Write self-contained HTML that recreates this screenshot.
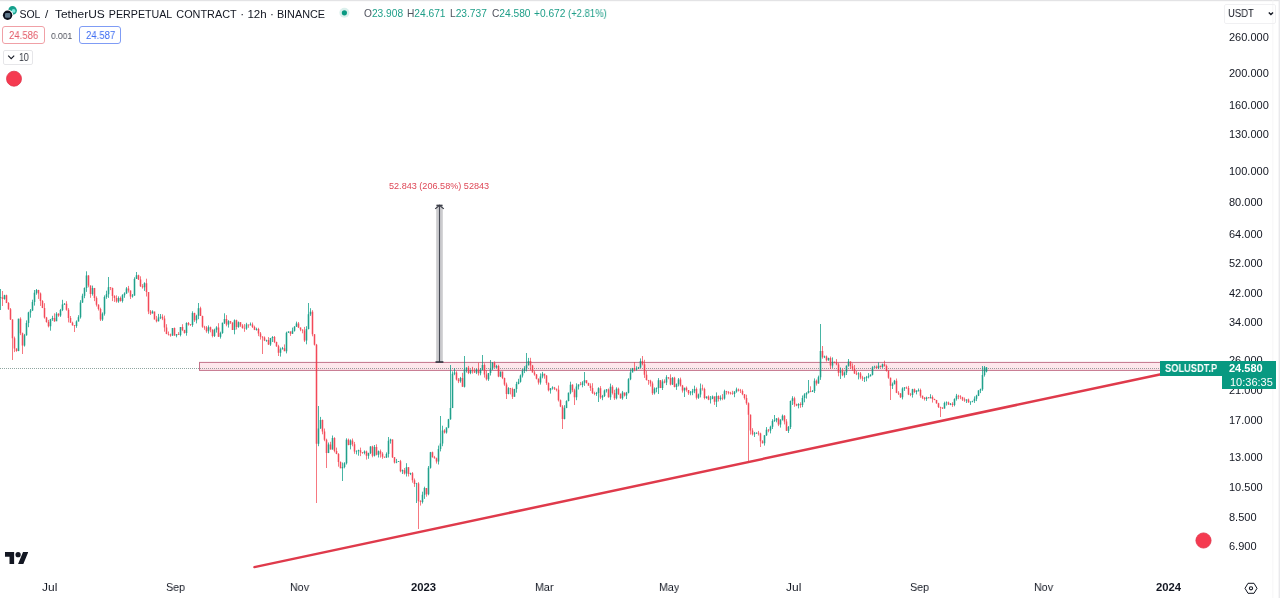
<!DOCTYPE html>
<html><head><meta charset="utf-8">
<style>
*{margin:0;padding:0;box-sizing:border-box}
html,body{width:1280px;height:598px;overflow:hidden;background:#fff}
body{position:relative;font-family:"Liberation Sans",Arial,sans-serif;color:#131722}
.a,.ax,.tx,.ty{will-change:transform}
.a{position:absolute;white-space:nowrap;line-height:1}
.ax{position:absolute;left:1229px;font-size:11px;color:#131722;line-height:1}
.tx{position:absolute;top:582px;font-size:11.5px;color:#131722;line-height:1;transform:scaleX(0.93);transform-origin:0 0}
.ty{position:absolute;top:582px;font-size:11.3px;color:#131722;line-height:1;font-weight:bold}
svg{position:absolute;left:0;top:0}
</style></head><body>
<svg width="1280" height="598" viewBox="0 0 1280 598">
  <!-- frame -->
  <rect x="0" y="0" width="1280" height="1.2" fill="#e3e3e5"/>
  <rect x="1272.5" y="0" width="0.8" height="598" fill="#f4f4f6"/>
  <rect x="1278.6" y="0" width="1.4" height="598" fill="#e9e9ec"/>
  <!-- current price dotted line -->
  <line x1="0" y1="368.5" x2="1160" y2="368.5" stroke="#8fa6a1" stroke-width="1" stroke-dasharray="1 1"/>
  <!-- rectangle zone -->
  <rect x="199.5" y="362.4" width="961" height="8" fill="rgba(245,80,110,0.13)" stroke="#c4738a" stroke-width="1"/>
  <filter id="bl" x="-1%" y="-5%" width="102%" height="110%"><feGaussianBlur stdDeviation="0.45"/></filter><g filter="url(#bl)"><path d="M0.50 289.0V310.0M4.50 294.8V299.7M18.50 318.6V351.2M24.50 333.9V346.6M26.50 320.4V335.7M28.50 311.8V327.2M30.50 309.0V317.7M32.50 299.7V310.9M34.50 290.0V305.6M36.50 289.0V294.7M50.50 318.9V330.7M52.50 315.8V320.9M56.50 312.2V321.2M60.50 308.9V316.9M62.50 299.8V311.1M64.50 303.1V304.9M76.50 320.4V327.8M78.50 315.2V321.5M80.50 300.2V318.6M82.50 293.7V302.9M84.50 287.4V298.2M86.50 271.3V291.9M92.50 285.6V295.6M102.50 312.4V320.9M104.50 295.4V315.6M106.50 290.7V298.8M108.50 277.0V297.9M118.50 296.4V302.8M122.50 294.2V302.6M124.50 292.3V297.8M126.50 287.1V293.8M132.50 294.0V297.6M134.50 277.3V295.8M136.50 272.0V278.9M144.50 282.3V290.9M152.50 310.3V313.5M158.50 313.9V321.5M160.50 314.0V319.1M172.50 328.0V335.9M176.50 334.0V337.3M180.50 327.0V336.4M186.50 322.3V335.7M192.50 311.3V326.8M196.50 314.7V323.4M198.50 303.0V319.2M208.50 325.4V333.6M214.50 328.7V337.0M216.50 326.2V332.6M220.50 331.7V338.6M222.50 322.6V333.8M224.50 313.3V324.0M228.50 320.2V327.6M234.50 319.4V334.3M238.50 321.5V327.8M246.50 322.8V329.8M250.50 322.5V325.5M256.50 327.7V330.6M266.50 339.7V341.8M270.50 337.9V345.9M272.50 336.1V342.0M280.50 347.6V356.6M282.50 346.9V349.5M286.50 331.7V353.4M288.50 331.3V332.9M292.50 327.6V333.9M294.50 326.1V331.6M296.50 321.6V326.8M306.50 326.2V344.3M308.50 303.0V329.4M310.50 308.2V315.9M318.50 406.0V446.2M320.50 416.9V428.8M328.50 442.5V453.1M332.50 435.5V449.6M342.50 462.5V481.0M344.50 462.2V468.3M346.50 438.3V464.5M350.50 439.4V449.4M356.50 450.3V454.4M358.50 449.7V455.7M364.50 450.4V454.4M368.50 452.7V458.8M370.50 446.2V454.1M374.50 445.0V456.5M378.50 450.5V457.5M386.50 452.4V457.9M388.50 437.0V457.5M390.50 438.7V443.6M396.50 458.9V463.2M398.50 461.2V462.0M402.50 469.5V474.0M406.50 463.2V476.5M410.50 472.7V475.1M416.50 482.9V503.0M422.50 491.7V503.5M424.50 486.7V498.9M428.50 466.0V495.3M430.50 451.9V468.6M438.50 445.6V464.5M440.50 416.0V451.4M442.50 425.7V446.2M446.50 427.4V433.6M448.50 418.9V428.2M450.50 365.0V419.8M452.50 371.4V408.1M454.50 368.2V375.2M460.50 376.9V382.7M464.50 356.0V387.5M466.50 367.3V372.5M470.50 369.4V374.2M476.50 368.8V374.1M480.50 368.2V375.3M482.50 355.0V370.2M488.50 373.0V380.9M490.50 360.0V375.5M492.50 362.0V370.0M496.50 364.9V368.0M500.50 371.6V377.1M508.50 387.2V394.3M514.50 388.8V396.8M516.50 381.8V392.7M518.50 378.8V384.3M520.50 374.5V382.6M522.50 369.0V377.5M524.50 366.2V373.1M526.50 353.0V371.4M528.50 357.9V365.5M540.50 373.4V384.6M542.50 371.9V378.3M550.50 388.1V393.6M552.50 386.3V389.6M564.50 405.2V419.4M566.50 400.3V408.2M568.50 392.5V401.4M570.50 381.7V394.2M576.50 383.3V400.2M578.50 384.3V389.5M582.50 381.2V387.3M584.50 372.0V385.9M596.50 391.9V395.9M598.50 387.3V402.0M602.50 394.9V400.2M604.50 389.5V397.0M606.50 389.0V392.5M610.50 383.6V399.9M616.50 387.3V399.4M622.50 390.9V399.7M626.50 391.9V399.0M628.50 378.2V393.4M630.50 369.2V380.2M632.50 367.9V372.4M636.50 366.3V370.6M638.50 366.9V368.9M640.50 358.4V368.0M654.50 387.4V394.5M656.50 387.4V392.3M658.50 378.1V394.0M662.50 379.4V390.0M666.50 375.2V385.1M672.50 377.1V385.0M676.50 383.4V389.9M678.50 378.0V386.4M684.50 387.7V397.0M690.50 391.0V395.3M692.50 388.9V395.2M694.50 385.7V393.2M698.50 393.6V398.9M700.50 383.5V397.4M706.50 396.4V398.8M710.50 396.0V403.5M712.50 395.5V399.2M716.50 392.4V407.0M720.50 395.4V400.5M724.50 389.7V399.6M734.50 391.2V397.2M736.50 387.6V392.7M754.50 431.9V437.0M756.50 432.4V433.9M764.50 435.2V445.6M766.50 427.1V435.9M770.50 425.7V433.4M772.50 419.2V429.0M774.50 415.0V421.9M776.50 418.0V422.3M780.50 419.2V427.6M782.50 414.5V420.6M788.50 426.0V433.0M790.50 400.5V429.0M792.50 396.2V405.0M798.50 403.2V408.4M802.50 395.5V407.2M804.50 393.2V402.3M806.50 392.2V398.6M808.50 380.0V393.5M812.50 390.0V392.0M814.50 378.4V393.0M818.50 375.6V383.7M820.50 324.0V379.9M824.50 355.6V358.1M828.50 357.7V360.8M832.50 357.4V367.9M840.50 367.5V379.0M844.50 371.3V377.7M846.50 365.4V375.0M848.50 359.0V366.7M858.50 372.2V379.4M864.50 376.9V382.0M866.50 375.9V381.3M868.50 373.1V378.4M870.50 374.3V376.5M872.50 366.2V375.4M874.50 365.7V367.6M878.50 362.4V369.1M882.50 363.6V367.9M892.50 382.5V389.0M894.50 379.9V384.4M902.50 387.3V399.4M904.50 387.1V390.9M912.50 388.8V397.6M916.50 390.4V394.4M918.50 388.5V391.6M926.50 396.7V400.9M930.50 394.2V398.4M944.50 401.7V408.7M946.50 401.4V405.5M950.50 403.0V405.2M954.50 398.3V406.3M956.50 393.9V400.6M966.50 399.3V403.0M970.50 401.5V404.9M972.50 400.7V402.3M974.50 396.4V402.9M976.50 394.8V401.1M978.50 390.2V396.1M980.50 388.6V393.1M982.50 366.0V390.8M984.50 366.0V376.6M986.50 367.0V372.4" stroke="#089981" stroke-width="1.0" fill="none" opacity="0.72"/><path d="M0.50 297.2V298.0M4.50 295.3V299.1M18.50 318.7V351.1M24.50 335.3V345.6M26.50 323.1V335.3M28.50 312.5V323.1M30.50 310.5V312.5M32.50 301.9V310.5M34.50 292.8V301.9M36.50 290.0V292.8M50.50 319.2V326.3M52.50 318.0V319.2M56.50 313.7V321.2M60.50 310.1V315.6M62.50 304.4V310.1M64.50 303.7V304.4M76.50 321.4V326.0M78.50 317.3V321.4M80.50 302.6V317.3M82.50 295.7V302.6M84.50 287.9V295.7M86.50 275.5V287.9M92.50 288.0V293.9M102.50 313.8V319.5M104.50 296.9V313.8M106.50 294.2V296.9M108.50 287.3V294.2M118.50 297.9V301.4M122.50 295.2V301.1M124.50 293.6V295.2M126.50 288.5V293.6M132.50 295.4V296.4M134.50 278.9V295.4M136.50 275.3V278.9M144.50 283.3V287.2M152.50 311.6V313.5M158.50 317.5V321.3M160.50 316.7V317.5M172.50 328.1V335.6M176.50 334.3V335.4M180.50 327.1V335.0M186.50 322.9V333.1M192.50 313.1V325.1M196.50 315.7V320.3M198.50 308.2V315.7M208.50 327.3V331.2M214.50 329.7V336.1M216.50 327.4V329.7M220.50 333.1V336.8M222.50 322.7V333.1M224.50 318.9V322.7M228.50 321.2V324.6M234.50 320.2V330.0M238.50 322.2V327.1M246.50 324.6V328.6M250.50 324.6V325.3M256.50 329.0V329.7M266.50 339.9V340.6M270.50 338.0V344.4M272.50 337.1V338.0M280.50 349.3V352.8M282.50 348.2V349.3M286.50 332.8V351.2M288.50 331.6V332.8M292.50 330.7V333.7M294.50 326.7V330.7M296.50 323.4V326.7M306.50 329.1V340.6M308.50 314.3V329.1M310.50 311.7V314.3M318.50 428.5V443.8M320.50 419.9V428.5M328.50 444.6V452.9M332.50 437.9V449.5M342.50 467.0V468.3M344.50 463.3V467.0M346.50 439.7V463.3M350.50 440.5V445.0M356.50 450.9V451.6M358.50 450.2V450.9M364.50 451.5V453.1M368.50 452.9V455.8M370.50 446.4V452.9M374.50 447.1V455.7M378.50 451.2V454.7M386.50 453.9V457.5M388.50 440.8V453.9M390.50 439.5V440.8M396.50 461.9V462.6M398.50 461.2V461.9M402.50 470.2V471.3M406.50 467.2V473.4M410.50 473.2V474.0M416.50 483.4V484.1M422.50 494.8V501.9M424.50 488.1V494.8M428.50 467.7V494.2M430.50 452.2V467.7M438.50 448.9V461.5M440.50 443.4V448.9M442.50 430.5V443.4M446.50 427.5V432.4M448.50 419.3V427.5M450.50 408.1V419.3M452.50 373.8V408.1M454.50 372.4V373.8M460.50 378.1V381.2M464.50 369.4V386.8M466.50 367.8V369.4M470.50 370.2V373.0M476.50 369.6V372.5M480.50 369.8V373.3M482.50 365.1V369.8M488.50 373.0V379.2M490.50 368.6V373.0M492.50 363.0V368.6M496.50 366.1V367.4M500.50 371.6V376.5M508.50 388.2V393.9M514.50 389.1V396.7M516.50 384.1V389.1M518.50 381.7V384.1M520.50 375.4V381.7M522.50 370.9V375.4M524.50 368.3V370.9M526.50 365.2V368.3M528.50 361.1V365.2M540.50 376.5V382.4M542.50 373.8V376.5M550.50 388.3V390.3M552.50 387.6V388.3M564.50 407.9V419.1M566.50 401.0V407.9M568.50 392.7V401.0M570.50 384.8V392.7M576.50 386.6V397.2M578.50 384.4V386.6M582.50 382.6V385.1M584.50 380.3V382.6M596.50 393.0V393.7M598.50 388.2V393.0M602.50 395.9V397.4M604.50 390.6V395.9M606.50 389.6V390.6M610.50 386.7V397.3M616.50 388.7V398.3M622.50 392.6V398.2M626.50 392.7V395.4M628.50 379.3V392.7M630.50 372.4V379.3M632.50 367.9V372.4M636.50 368.8V369.5M638.50 367.4V368.8M640.50 361.0V367.4M654.50 388.8V393.3M656.50 387.9V388.8M658.50 380.2V387.9M662.50 381.4V387.9M666.50 377.3V382.4M672.50 377.7V384.6M676.50 384.3V387.1M678.50 379.4V384.3M684.50 387.8V390.4M690.50 392.5V393.2M692.50 391.3V392.5M694.50 389.1V391.3M698.50 394.4V397.7M700.50 388.4V394.4M706.50 396.5V398.1M710.50 398.8V399.5M712.50 396.4V398.8M716.50 396.0V401.8M720.50 397.8V399.1M724.50 391.3V398.5M734.50 391.6V394.1M736.50 389.4V391.6M754.50 433.5V434.3M756.50 432.8V433.5M764.50 435.3V443.2M766.50 429.8V435.3M770.50 426.8V430.5M772.50 421.0V426.8M774.50 420.2V421.0M776.50 418.5V420.2M780.50 419.7V424.6M782.50 415.8V419.7M788.50 426.9V430.7M790.50 400.9V426.9M792.50 398.2V400.9M798.50 403.9V405.5M802.50 398.1V405.1M804.50 394.6V398.1M806.50 393.1V394.6M808.50 391.0V393.1M812.50 391.0V391.7M814.50 380.8V391.0M818.50 377.2V383.6M820.50 351.1V377.2M824.50 356.5V357.2M828.50 357.9V360.2M832.50 361.7V365.6M840.50 371.0V372.8M844.50 372.4V375.3M846.50 365.7V372.4M848.50 361.5V365.7M858.50 373.6V374.3M864.50 377.9V378.6M866.50 377.2V377.9M868.50 376.3V377.2M870.50 374.7V376.3M872.50 367.4V374.7M874.50 366.7V367.4M878.50 365.8V368.0M882.50 364.3V367.0M892.50 384.3V385.8M894.50 380.7V384.3M902.50 388.4V397.3M904.50 387.4V388.4M912.50 389.3V395.1M916.50 390.6V391.9M918.50 389.9V390.6M926.50 397.5V398.9M930.50 397.1V398.2M944.50 403.1V408.5M946.50 402.4V403.1M950.50 403.8V404.5M954.50 399.1V404.9M956.50 395.8V399.1M966.50 399.6V400.4M970.50 401.6V402.3M972.50 400.9V401.6M974.50 398.8V400.9M976.50 395.7V398.8M978.50 390.4V395.7M980.50 389.2V390.4M982.50 375.1V389.2M984.50 367.5V375.1M986.50 367.5V371.4" stroke="#089981" stroke-width="1.7" fill="none" opacity="0.72"/><path d="M2.50 291.0V306.0M6.50 294.7V303.1M8.50 302.1V309.8M10.50 308.0V320.0M12.50 319.3V360.0M14.50 336.6V352.1M16.50 348.3V351.8M20.50 317.3V335.1M22.50 332.6V354.0M38.50 289.8V298.9M40.50 292.5V305.9M42.50 300.1V308.1M44.50 303.2V318.6M46.50 316.9V322.7M48.50 319.9V327.4M54.50 313.3V321.9M58.50 313.2V316.8M66.50 301.2V310.7M68.50 308.1V322.4M70.50 316.0V322.8M72.50 321.7V325.7M74.50 325.0V332.0M88.50 275.1V287.3M90.50 285.4V297.8M94.50 287.9V301.1M96.50 296.4V306.5M98.50 304.2V310.5M100.50 307.7V321.0M110.50 287.2V290.1M112.50 287.6V301.1M114.50 295.2V301.9M116.50 295.3V302.7M120.50 296.5V301.6M128.50 285.9V292.6M130.50 290.4V299.0M138.50 274.7V280.0M140.50 276.3V287.0M142.50 284.1V288.6M146.50 278.7V296.5M148.50 292.1V314.1M150.50 310.0V315.0M154.50 311.6V319.5M156.50 315.9V322.4M162.50 314.3V320.1M164.50 315.6V331.7M166.50 324.2V334.2M168.50 331.5V335.5M170.50 333.6V336.7M174.50 327.5V335.8M178.50 332.1V335.0M182.50 324.2V331.1M184.50 329.8V333.6M188.50 322.0V325.6M190.50 324.0V325.9M194.50 312.7V321.9M200.50 306.7V316.0M202.50 315.7V327.8M204.50 325.8V329.8M206.50 326.0V332.8M210.50 326.6V332.3M212.50 329.2V337.4M218.50 323.2V337.0M226.50 315.1V326.3M230.50 320.9V323.9M232.50 322.3V330.0M236.50 319.7V329.5M240.50 322.1V326.9M242.50 324.1V328.7M244.50 324.1V331.8M248.50 324.6V327.8M252.50 322.5V328.0M254.50 325.7V330.1M258.50 327.8V336.1M260.50 332.0V339.6M262.50 336.1V354.0M264.50 336.4V341.1M268.50 337.1V345.0M274.50 336.0V343.1M276.50 341.7V346.9M278.50 344.8V356.0M284.50 344.4V351.2M290.50 331.3V335.9M298.50 322.0V328.0M300.50 327.4V331.2M302.50 329.5V333.3M304.50 326.9V341.9M312.50 310.2V336.3M314.50 334.1V345.5M316.50 343.9V503.0M322.50 419.5V434.3M324.50 428.5V441.2M326.50 438.7V468.0M330.50 441.8V449.7M334.50 437.2V452.4M336.50 447.6V454.2M338.50 453.1V466.7M340.50 461.4V468.3M348.50 438.6V445.3M352.50 438.5V446.3M354.50 441.9V453.8M360.50 447.6V456.1M362.50 452.0V453.8M366.50 450.6V459.6M372.50 445.7V457.3M376.50 444.3V455.4M380.50 449.5V457.6M382.50 452.2V458.8M384.50 456.6V457.8M392.50 439.3V458.0M394.50 457.0V463.5M400.50 459.9V472.3M404.50 468.0V474.5M408.50 467.1V476.5M412.50 472.1V482.7M414.50 478.5V486.9M418.50 482.2V529.0M420.50 500.2V505.6M426.50 488.0V496.7M432.50 451.6V457.6M434.50 455.9V458.6M436.50 457.6V463.6M444.50 429.2V433.5M456.50 371.2V380.5M458.50 378.0V383.1M462.50 372.8V387.0M468.50 365.9V374.1M472.50 366.8V373.6M474.50 368.8V373.0M478.50 362.7V375.5M484.50 363.3V377.6M486.50 370.2V380.5M494.50 361.4V367.7M498.50 364.8V377.2M502.50 371.5V379.1M504.50 377.6V385.8M506.50 382.6V399.0M510.50 387.9V394.4M512.50 387.6V399.0M530.50 357.8V370.3M532.50 364.9V372.6M534.50 370.6V375.7M536.50 374.0V379.4M538.50 378.4V384.6M544.50 373.7V378.7M546.50 375.1V384.8M548.50 382.4V391.4M554.50 386.9V390.0M556.50 388.6V391.4M558.50 385.5V401.5M560.50 399.5V407.1M562.50 405.1V429.0M572.50 384.2V392.1M574.50 388.7V405.0M580.50 381.9V385.3M586.50 380.2V383.6M588.50 382.7V385.7M590.50 383.4V390.9M592.50 383.2V394.0M594.50 391.7V395.2M600.50 386.1V399.1M608.50 388.5V397.7M612.50 385.2V394.5M614.50 389.8V399.9M618.50 387.6V395.0M620.50 393.3V398.8M624.50 392.5V396.5M634.50 362.0V371.3M642.50 356.0V365.4M644.50 359.8V377.9M646.50 370.7V380.5M648.50 379.9V384.8M650.50 379.8V386.5M652.50 381.5V394.9M660.50 380.0V388.1M664.50 379.3V383.3M668.50 377.2V379.2M670.50 374.3V385.4M674.50 376.8V387.4M680.50 377.6V386.5M682.50 384.9V392.6M686.50 386.5V391.7M688.50 390.0V394.9M696.50 387.5V399.5M702.50 384.6V390.6M704.50 387.7V399.4M708.50 395.4V400.2M714.50 396.3V404.9M718.50 395.4V401.5M722.50 394.1V400.2M726.50 390.9V394.6M728.50 391.1V394.4M730.50 391.8V394.6M732.50 390.8V394.8M738.50 388.5V391.5M740.50 388.9V393.0M742.50 389.4V395.2M744.50 394.0V399.6M746.50 394.7V404.8M748.50 402.4V461.0M750.50 414.4V434.6M752.50 428.2V435.5M758.50 430.9V435.5M760.50 432.7V447.0M762.50 440.2V443.5M768.50 429.0V432.3M778.50 417.4V426.1M784.50 415.1V424.4M786.50 419.1V431.0M794.50 396.7V406.8M796.50 403.7V406.2M800.50 402.3V407.8M810.50 386.3V392.2M816.50 379.5V385.6M822.50 346.0V358.7M826.50 355.5V361.5M830.50 356.5V368.9M834.50 361.6V363.3M836.50 359.1V365.3M838.50 362.9V376.3M842.50 368.7V376.2M850.50 361.3V368.9M852.50 363.4V370.9M854.50 365.0V373.9M856.50 371.0V375.1M860.50 372.0V379.3M862.50 375.8V380.9M876.50 365.5V368.7M880.50 365.6V367.7M884.50 360.7V366.7M886.50 364.6V371.6M888.50 370.2V378.8M890.50 377.6V400.0M896.50 378.5V393.1M898.50 391.2V395.0M900.50 393.0V398.0M906.50 386.5V389.0M908.50 385.9V395.1M910.50 392.9V396.2M914.50 388.5V393.1M920.50 388.6V397.7M922.50 395.6V399.1M924.50 397.0V400.5M928.50 397.0V398.3M932.50 395.4V402.6M934.50 398.7V400.2M936.50 399.9V403.8M938.50 402.8V408.0M940.50 406.7V417.0M942.50 407.2V409.0M948.50 401.6V405.0M952.50 402.2V406.9M958.50 394.8V399.2M960.50 395.2V399.2M962.50 396.8V401.0M964.50 397.5V401.8M968.50 398.6V402.9" stroke="#f23645" stroke-width="1.0" fill="none" opacity="0.68"/><path d="M2.50 297.2V299.1M6.50 295.3V303.1M8.50 303.1V309.2M10.50 309.2V319.4M12.50 319.4V338.3M14.50 338.3V348.6M16.50 348.6V351.1M20.50 318.7V333.2M22.50 333.2V345.6M38.50 290.0V293.6M40.50 293.6V300.9M42.50 300.9V307.9M44.50 307.9V317.6M46.50 317.6V322.1M48.50 322.1V326.3M54.50 318.0V321.2M58.50 313.7V315.6M66.50 303.7V309.7M68.50 309.7V317.9M70.50 317.9V322.7M72.50 322.7V325.3M74.50 325.3V326.0M88.50 275.5V285.5M90.50 285.5V293.9M94.50 288.0V298.0M96.50 298.0V304.7M98.50 304.7V308.9M100.50 308.9V319.5M110.50 287.3V288.1M112.50 288.1V296.1M114.50 296.1V298.1M116.50 298.1V301.4M120.50 297.9V301.1M128.50 288.5V290.4M130.50 290.4V296.4M138.50 275.3V279.4M140.50 279.4V286.3M142.50 286.3V287.2M146.50 283.3V292.1M148.50 292.1V311.6M150.50 311.6V313.5M154.50 311.6V319.4M156.50 319.4V321.3M162.50 316.7V318.6M164.50 318.6V327.4M166.50 327.4V333.9M168.50 333.9V334.6M170.50 334.6V335.6M174.50 328.1V335.4M178.50 334.3V335.0M182.50 327.1V329.9M184.50 329.9V333.1M188.50 322.9V324.4M190.50 324.4V325.1M194.50 313.1V320.3M200.50 308.2V316.0M202.50 316.0V326.7M204.50 326.7V327.4M206.50 327.4V331.2M210.50 327.3V329.8M212.50 329.8V336.1M218.50 327.4V336.8M226.50 318.9V324.6M230.50 321.2V322.6M232.50 322.6V330.0M236.50 320.2V327.1M240.50 322.2V325.6M242.50 325.6V327.9M244.50 327.9V328.6M248.50 324.6V325.3M252.50 324.6V327.0M254.50 327.0V329.7M258.50 329.0V333.5M260.50 333.5V336.7M262.50 336.7V337.4M264.50 337.4V340.6M268.50 339.9V344.4M274.50 337.1V341.9M276.50 341.9V346.3M278.50 346.3V352.8M284.50 348.2V351.2M290.50 331.6V333.7M298.50 323.4V327.5M300.50 327.5V329.5M302.50 329.5V330.4M304.50 330.4V340.6M312.50 311.7V334.3M314.50 334.3V344.8M316.50 344.8V443.8M322.50 419.9V431.5M324.50 431.5V439.8M326.50 439.8V452.9M330.50 444.6V449.5M334.50 437.9V450.9M336.50 450.9V454.0M338.50 454.0V461.9M340.50 461.9V468.3M348.50 439.7V445.0M352.50 440.5V444.2M354.50 444.2V451.6M360.50 450.2V452.4M362.50 452.4V453.1M366.50 451.5V455.8M372.50 446.4V455.7M376.50 447.1V454.7M380.50 451.2V453.7M382.50 453.7V456.8M384.50 456.8V457.5M392.50 439.5V457.3M394.50 457.3V462.6M400.50 461.2V471.3M404.50 470.2V473.4M408.50 467.2V474.0M412.50 473.2V480.3M414.50 480.3V484.1M418.50 483.4V501.2M420.50 501.2V501.9M426.50 488.1V494.2M432.50 452.2V457.2M434.50 457.2V458.2M436.50 458.2V461.5M444.50 430.5V432.4M456.50 372.4V379.6M458.50 379.6V381.2M462.50 378.1V386.8M468.50 367.8V373.0M472.50 370.2V371.3M474.50 371.3V372.5M478.50 369.6V373.3M484.50 365.1V374.5M486.50 374.5V379.2M494.50 363.0V367.4M498.50 366.1V376.5M502.50 371.6V378.0M504.50 378.0V384.4M506.50 384.4V393.9M510.50 388.2V388.9M512.50 388.9V396.7M530.50 361.1V365.5M532.50 365.5V372.4M534.50 372.4V374.4M536.50 374.4V378.7M538.50 378.7V382.4M544.50 373.8V375.6M546.50 375.6V383.1M548.50 383.1V390.3M554.50 387.6V388.7M556.50 388.7V389.7M558.50 389.7V400.3M560.50 400.3V406.5M562.50 406.5V419.1M572.50 384.8V390.2M574.50 390.2V397.2M580.50 384.4V385.1M586.50 380.3V382.9M588.50 382.9V385.7M590.50 385.7V388.0M592.50 388.0V393.0M594.50 393.0V393.7M600.50 388.2V397.4M608.50 389.6V397.3M612.50 386.7V392.9M614.50 392.9V398.3M618.50 388.7V394.1M620.50 394.1V398.2M624.50 392.6V395.4M634.50 367.9V369.5M642.50 361.0V364.3M644.50 364.3V374.7M646.50 374.7V380.0M648.50 380.0V380.7M650.50 380.7V383.5M652.50 383.5V393.3M660.50 380.2V387.9M664.50 381.4V382.4M668.50 377.3V378.1M670.50 378.1V384.6M674.50 377.7V387.1M680.50 379.4V385.6M682.50 385.6V390.4M686.50 387.8V390.0M688.50 390.0V393.2M696.50 389.1V397.7M702.50 388.4V389.1M704.50 389.1V398.1M708.50 396.5V399.5M714.50 396.4V401.8M718.50 396.0V399.1M722.50 397.8V398.5M726.50 391.3V392.0M728.50 392.0V392.7M730.50 392.7V393.4M732.50 393.4V394.1M738.50 389.4V390.4M740.50 390.4V391.1M742.50 391.1V394.2M744.50 394.2V398.1M746.50 398.1V403.3M748.50 403.3V414.7M750.50 414.7V430.5M752.50 430.5V434.3M758.50 432.8V433.5M760.50 433.5V441.3M762.50 441.3V443.2M768.50 429.8V430.5M778.50 418.5V424.6M784.50 415.8V421.5M786.50 421.5V430.7M794.50 398.2V404.2M796.50 404.2V405.5M800.50 403.9V405.1M810.50 391.0V391.7M816.50 380.8V383.6M822.50 351.1V357.2M826.50 356.5V360.2M830.50 357.9V365.6M834.50 361.7V362.4M836.50 362.4V364.6M838.50 364.6V372.8M842.50 371.0V375.3M850.50 361.5V366.2M852.50 366.2V368.4M854.50 368.4V373.4M856.50 373.4V374.3M860.50 373.6V377.6M862.50 377.6V378.6M876.50 366.7V368.0M880.50 365.8V367.0M884.50 364.3V366.0M886.50 366.0V370.9M888.50 370.9V377.7M890.50 377.7V385.8M896.50 380.7V392.8M898.50 392.8V393.5M900.50 393.5V397.3M906.50 387.4V388.1M908.50 388.1V394.4M910.50 394.4V395.1M914.50 389.3V391.9M920.50 389.9V395.7M922.50 395.7V397.7M924.50 397.7V398.9M928.50 397.5V398.2M932.50 397.1V399.1M934.50 399.1V399.9M936.50 399.9V403.2M938.50 403.2V407.1M940.50 407.1V407.8M942.50 407.8V408.5M948.50 402.4V404.5M952.50 403.8V404.9M958.50 395.8V396.6M960.50 396.6V397.3M962.50 397.3V399.4M964.50 399.4V400.4M968.50 399.6V402.3" stroke="#f23645" stroke-width="1.7" fill="none" opacity="0.68"/></g>
  <!-- trendline -->
  <line x1="254.4" y1="567.1" x2="1161" y2="374.2" stroke="#df3a4b" stroke-width="2.5" stroke-linecap="round"/>
  <!-- measurement arrow -->
  <rect x="436.2" y="205" width="6.6" height="157.5" fill="rgba(110,112,120,0.36)"/>
  <line x1="439.5" y1="205.5" x2="439.5" y2="362" stroke="#464953" stroke-width="1.1"/>
  <line x1="436.5" y1="205.3" x2="442.5" y2="205.3" stroke="#3a3d47" stroke-width="1.3"/>
  <path d="M435.2 208.9 L439.5 205.2 L443.8 208.9" stroke="#3a3d47" stroke-width="1.2" fill="none"/>
  <line x1="435.5" y1="362" x2="443.4" y2="362" stroke="#2a2e39" stroke-width="1.5"/>
  <!-- red dots -->
  <circle cx="14.0" cy="78.7" r="7.5" fill="#f53a50" stroke="#e0334a" stroke-width="0.8"/>
  <circle cx="1203.5" cy="540.5" r="7.6" fill="#f53a50" stroke="#e0334a" stroke-width="0.8"/>
  <!-- status dot -->
  <circle cx="344.4" cy="12.8" r="5" fill="#089981" opacity="0.15"/>
  <circle cx="344.4" cy="12.8" r="2.6" fill="#089981"/>
  <!-- symbol icons -->
  <circle cx="12.5" cy="10.5" r="4.4" fill="#16a08c"/>
  <circle cx="13.6" cy="10.9" r="1.9" fill="#7ee6dc"/>
  <circle cx="7.6" cy="15.3" r="5.8" fill="#fff"/>
  <circle cx="7.6" cy="15.3" r="4.7" fill="#0b0d1a"/>
  <rect x="5.0" y="13.0" width="5.3" height="4.8" rx="1.2" fill="#5d7488"/>
  <!-- TV logo -->
  <svg x="4.9" y="552" width="23.4" height="12" viewBox="0 4 35.5 18">
    <path d="M14 22H7V11H0V4h14v18zM28 22h-8l7.5-18h8L28 22z" fill="#131722"/>
    <circle cx="20" cy="8" r="4" fill="#131722"/>
  </svg>
  <!-- gear -->
  <path d="M1248 583.3 L1254 583.3 L1257 588.3 L1254 593.3 L1248 593.3 L1245 588.3 Z" fill="none" stroke="#131722" stroke-width="1"/>
  <circle cx="1251" cy="588.3" r="1.6" fill="none" stroke="#131722" stroke-width="1.1"/>
  <!-- usdt chevron -->
  <path d="M1268.8 12.4 L1270.9 14.5 L1273 12.4" fill="none" stroke="#131722" stroke-width="1.4"/>
  <!-- 10 chevron -->
  <path d="M8.2 55.6 L11.2 58.6 L14.2 55.6" fill="none" stroke="#131722" stroke-width="1.1"/>
</svg>

<!-- header legend -->
<svg width="340" height="24" style="position:absolute;left:0;top:0;will-change:transform" font-family="Liberation Sans, Arial, sans-serif" font-size="11.7" fill="#131722"><text x="19.4" y="17.6" textLength="21.0" lengthAdjust="spacingAndGlyphs">SOL</text><text x="45" y="17.6">/</text><text x="55.0" y="17.6" textLength="49.8" lengthAdjust="spacingAndGlyphs">TetherUS</text><text x="108.8" y="17.6" textLength="63.5" lengthAdjust="spacingAndGlyphs">PERPETUAL</text><text x="176.3" y="17.6" textLength="60.4" lengthAdjust="spacingAndGlyphs">CONTRACT</text><text x="240.3" y="17.6">·</text><text x="247.4" y="17.6" textLength="19.3" lengthAdjust="spacingAndGlyphs">12h</text><text x="270.0" y="17.6">·</text><text x="276.9" y="17.6" textLength="48.1" lengthAdjust="spacingAndGlyphs">BINANCE</text></svg>
<div class="a" style="left:364px;top:8.6px;font-size:10.2px;color:#1e9e88"><span style="color:#50535e">O</span>23.908</div>
<div class="a" style="left:407.4px;top:8.6px;font-size:10.2px;color:#1e9e88"><span style="color:#50535e">H</span>24.671</div>
<div class="a" style="left:450px;top:8.6px;font-size:10.2px;color:#1e9e88"><span style="color:#50535e">L</span>23.737</div>
<div class="a" style="left:491.5px;top:8.6px;font-size:10.2px;color:#1e9e88"><span style="color:#50535e">C</span>24.580</div>
<div class="a" style="left:534.2px;top:8.6px;font-size:10.2px;color:#1e9e88">+0.672</div>
<div class="a" style="left:568px;top:8.6px;font-size:10.2px;color:#1e9e88;transform:scaleX(0.93);transform-origin:0 0">(+2.81%)</div>

<!-- bid/ask boxes -->
<div class="a" style="left:2px;top:26.4px;width:42.7px;height:17.8px;border:1px solid #f0a0a6;border-radius:3px"></div>
<div class="a" style="left:8.7px;top:31.2px;font-size:10px;color:#e35a67;transform:scaleX(0.955);transform-origin:0 0">24.586</div>
<div class="a" style="left:50.7px;top:30.9px;font-size:9.4px;color:#50535e;transform:scaleX(0.9);transform-origin:0 0">0.001</div>
<div class="a" style="left:79.2px;top:26.4px;width:42.3px;height:17.8px;border:1px solid #7f9cf5;border-radius:3px"></div>
<div class="a" style="left:85.9px;top:31.2px;font-size:10px;color:#3d6cf2;transform:scaleX(0.955);transform-origin:0 0">24.587</div>
<div class="a" style="left:2.6px;top:50px;width:29.6px;height:15.3px;border:1px solid #e6e6e9;border-radius:2px"></div>
<div class="a" style="left:19.2px;top:52.9px;font-size:10px;color:#2a2e39;transform:scaleX(0.87);transform-origin:0 0">10</div>

<!-- USDT -->
<div class="a" style="left:1224px;top:3.6px;width:51.7px;height:19.8px;border:1px solid #f0f0f2;border-radius:2px"></div>
<div class="a" style="left:1227.6px;top:8px;font-size:11.2px;color:#131722;transform:scaleX(0.85);transform-origin:0 0">USDT</div>

<!-- measure label -->
<div class="a" style="left:389px;top:181.7px;font-size:9.1px;color:#de4756">52.843 (206.58%) 52843</div>

<!-- price axis -->
<div class="ax" style="top:31.5px">260.000</div>
<div class="ax" style="top:68.4px">200.000</div>
<div class="ax" style="top:99.7px">160.000</div>
<div class="ax" style="top:128.9px">130.000</div>
<div class="ax" style="top:165.8px">100.000</div>
<div class="ax" style="top:197.1px">80.000</div>
<div class="ax" style="top:228.5px">64.000</div>
<div class="ax" style="top:257.6px">52.000</div>
<div class="ax" style="top:287.6px">42.000</div>
<div class="ax" style="top:317.3px">34.000</div>
<div class="ax" style="top:355.0px">26.000</div>
<div class="ax" style="top:385.0px">21.000</div>
<div class="ax" style="top:414.7px">17.000</div>
<div class="ax" style="top:452.4px">13.000</div>
<div class="ax" style="top:482.4px">10.500</div>
<div class="ax" style="top:512.1px">8.500</div>
<div class="ax" style="top:541.4px">6.900</div>

<!-- price label -->
<div class="a" style="left:1160.2px;top:360.7px;width:62px;height:15.2px;background:#089981"></div>
<div class="a" style="left:1221.5px;top:360.7px;width:54.2px;height:28px;background:#089981"></div>
<div class="a" style="left:1164.5px;top:362.8px;font-size:11px;font-weight:bold;color:#fff;transform:scaleX(0.845);transform-origin:0 0">SOLUSDT.P</div>
<div class="a" style="left:1229px;top:363px;font-size:11px;font-weight:bold;color:#fff">24.580</div>
<div class="a" style="left:1229.5px;top:377px;font-size:11px;color:#fff">10:36:35</div>

<!-- time axis -->
<div class="tx" style="left:41.6px;transform:scaleX(1.04)">Jul</div>
<div class="tx" style="left:165.9px">Sep</div>
<div class="tx" style="left:290.1px">Nov</div>
<div class="ty" style="left:411.3px">2023</div>
<div class="tx" style="left:534.5px">Mar</div>
<div class="tx" style="left:658.5px">May</div>
<div class="tx" style="left:785.6px;transform:scaleX(1.04)">Jul</div>
<div class="tx" style="left:909.5px">Sep</div>
<div class="tx" style="left:1033.5px">Nov</div>
<div class="ty" style="left:1155.8px">2024</div>
</body></html>
